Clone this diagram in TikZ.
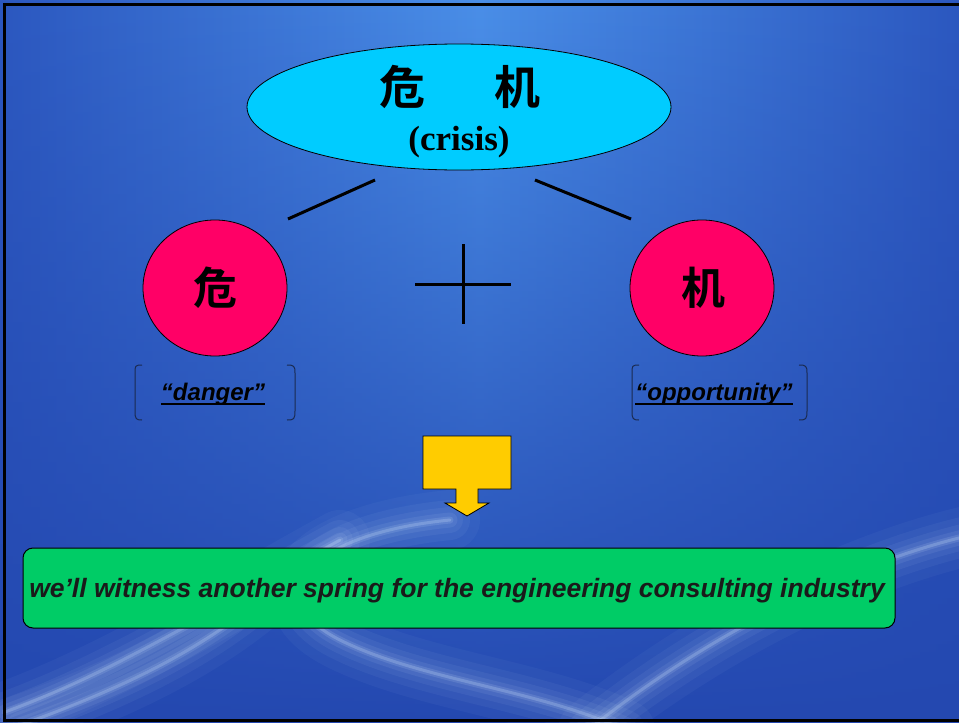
\documentclass[tikz,border=0pt]{standalone}
\usepackage{fontspec}
\setmainfont{Liberation Serif}
\setsansfont{Liberation Sans}
\newfontfamily\cjk{Noto Sans CJK SC}[BoldFont={* Bold}]
\usetikzlibrary{shapes.geometric,fadings}
\definecolor{bglight}{HTML}{4A8FE8}
\definecolor{bgmid}{HTML}{3A76D8}
\definecolor{bgdark}{HTML}{2C58C0}
\definecolor{bgbottom}{HTML}{2448B0}
\definecolor{cyanfill}{HTML}{00CCFF}
\definecolor{pinkfill}{HTML}{FF0066}
\definecolor{yellowfill}{HTML}{FFCC00}
\definecolor{greenfill}{HTML}{00CC66}
\definecolor{bracketcol}{HTML}{1A2A50}
\definecolor{textdark}{HTML}{1A1A1A}
\definecolor{wavecol}{HTML}{D8ECFF}
\tikzset{
  bigoval/.style={ellipse, draw=black, line width=0.8pt, fill=cyanfill, minimum width=424pt, minimum height=126pt, inner sep=0pt},
  redoval/.style={ellipse, draw=black, line width=0.8pt, fill=pinkfill, minimum width=144pt, minimum height=136pt, inner sep=0pt},
  conn/.style={line width=3pt, black},
  brack/.style={line width=1pt, bracketcol},
  wordlabel/.style={font=\sffamily\bfseries\itshape\fontsize{24}{28}\selectfont, text=black, inner sep=0pt, anchor=base},
  uline/.style={line width=2pt, black},
  arrowshape/.style={fill=yellowfill, draw=black, line width=0.8pt, line join=miter},
  resultbox/.style={rectangle, rounded corners=10pt, draw=black, line width=1pt, fill=greenfill, minimum width=872pt, minimum height=80pt, inner sep=0pt},
  wave/.style={wavecol, line cap=round}
}
\begin{document}
\begin{tikzpicture}[x=1pt,y=-1pt]
\useasboundingbox (0,0) rectangle (959,723);
% background
\shade[left color=bgdark, right color=bgdark, middle color=bglight] (0,0) rectangle (959,723);
\fill[bgbottom, path fading=north] (0,0) rectangle (959,723);
% light waves
\begin{scope}
\clip (0,0) rectangle (959,723);
\foreach \w/\o in {60/0.04, 40/0.05, 26/0.06, 15/0.08, 7/0.12, 3/0.22}{
  \draw[wave, line width=\w pt, opacity=\o] (450,520) .. controls (300,535) and (260,600) .. (340,640) .. controls (420,680) and (540,690) .. (625,730);
  \draw[wave, line width=\w pt, opacity=\o] (985,532) .. controls (850,560) and (700,640) .. (588,730);
  \draw[wave, line width=\w pt, opacity=\o] (5,712) .. controls (120,670) and (230,600) .. (340,540);
  \draw[wave, line width=\w pt, opacity=\o] (20,725) .. controls (120,690) and (200,650) .. (260,600);
}
\end{scope}
% border
\draw[black, line width=3pt] (970,4.5) -- (4.5,4.5) -- (4.5,720.5) -- (970,720.5);
% top oval
\node[bigoval] (crisis) at (459,107) {};
\node[font=\cjk\bfseries\fontsize{46}{50}\selectfont, inner sep=0pt] (crisiszh) at (460,87) {危\hspace{69pt}机};
\node[font=\rmfamily\bfseries\fontsize{35}{38}\selectfont, inner sep=0pt] (crisisen) at (459,142) {(crisis)};
% two ovals
\node[redoval] (danger) at (215,288) {};
\node[font=\cjk\bfseries\fontsize{44}{48}\selectfont, inner sep=0pt] (dangerzh) at (215,288) {危};
\node[redoval] (opp) at (702,288) {};
\node[font=\cjk\bfseries\fontsize{44}{48}\selectfont, inner sep=0pt] (oppzh) at (703,288) {机};
% connectors
\coordinate (c1a) at (375,180);
\coordinate (c1b) at (288,219);
\coordinate (c2a) at (535,180);
\coordinate (c2b) at (631,219);
\draw[conn] (c1a) -- (c1b);
\draw[conn] (c2a) -- (c2b);
% plus sign
\coordinate (ph1) at (415,284);
\coordinate (ph2) at (511,284);
\coordinate (pv1) at (463,244);
\coordinate (pv2) at (463,324);
\draw[conn] (ph1) -- (ph2);
\draw[conn] (pv1) -- (pv2);
% brackets
\draw[brack] (142,365) .. controls (135,365) and (135,366) .. (135,373) -- (135,411) .. controls (135,419) and (136,420) .. (142,420);
\draw[brack] (287,365) .. controls (294,365) and (295,366) .. (295,373) -- (295,411) .. controls (295,419) and (294,420) .. (287,420);
\node[wordlabel] (dangeren) at (213,400) {“danger”};
\draw[uline] ([yshift=-3.5pt]dangeren.base west) -- ([yshift=-3.5pt]dangeren.base east);
\draw[brack] (639,365) .. controls (632,365) and (632,366) .. (632,373) -- (632,411) .. controls (632,419) and (633,420) .. (639,420);
\draw[brack] (799,365) .. controls (806,365) and (807,366) .. (807,373) -- (807,411) .. controls (807,419) and (806,420) .. (799,420);
\node[wordlabel] (oppen) at (714,400) {“opportunity”};
\draw[uline] ([yshift=-3.5pt]oppen.base west) -- ([yshift=-3.5pt]oppen.base east);
% yellow arrow
\draw[arrowshape] (423,436) -- (511,436) -- (511,489) -- (478,489) -- (478,503) -- (489,503) -- (467,516) -- (445,503) -- (456,503) -- (456,489) -- (423,489) -- cycle;
% result box
\node[resultbox] (result) at (459,588) {};
\node[font=\sffamily\bfseries\itshape\fontsize{26.5}{30}\selectfont, text=textdark, inner sep=0pt, anchor=base] (resulttext) at (457,597) {we’ll witness another spring for the engineering consulting industry};
\end{tikzpicture}
\end{document}
